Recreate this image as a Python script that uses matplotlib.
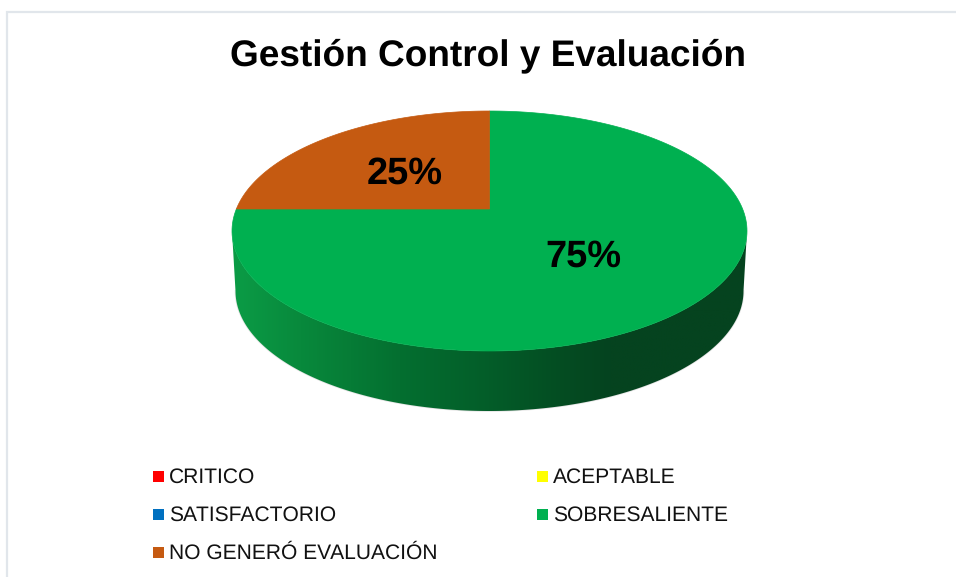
import numpy as np
import matplotlib
matplotlib.use("Agg")
import matplotlib.pyplot as plt
from matplotlib.colors import LinearSegmentedColormap
from matplotlib.patches import Polygon, Rectangle

plt.rcParams["font.family"] = ["Liberation Sans", "DejaVu Sans"]
plt.rcParams["text.hinting"] = "none"
plt.rcParams["text.hinting_factor"] = 1

# datos
categorias = ["CRITICO", "ACEPTABLE", "SATISFACTORIO", "SOBRESALIENTE", "NO GENERÓ EVALUACIÓN"]
valores = [0, 0, 0, 75, 25]
colores = ["#ff0000", "#ffff00", "#0070c0", "#00b050", "#c55a11"]
titulo = "Gestión Control y Evaluación"

# geometria en pixeles
cx, cy = 489.5, 231
rx, ry = 257.5, 120
alto = 60
rx_base = 254
centro_y = 209  # el vertice de las porciones no cae en el centro de la elipse

etiquetas_pos = {3: (583, 257), 4: (405, 174)}
leyenda_pos = [(153, 476.5), (537, 476.5), (153, 514.5), (537, 514.5), (153, 552.5)]

# degradado de la pared lateral
pared_x = [232, 300, 400, 489, 560, 610, 750]
pared_c = ["#0b9c46", "#08893c", "#046f30", "#035d29", "#044d22", "#05431f", "#05431f"]


def borde(theta):
    # interseccion del rayo desde el vertice con la elipse
    c = (cy - centro_y) / ry
    dx, dy = np.cos(theta), np.sin(theta)
    b = c * dy
    s = -b + np.sqrt(b**2 - (c**2 - 1))
    return cx + rx * s * dx, cy - ry * (c + s * dy)


def porcion(inicio, fin):
    ts = np.radians(np.linspace(inicio, fin, 200))
    xs, ys = borde(ts)
    return np.column_stack([np.r_[cx, xs], np.r_[centro_y, ys]])


fig = plt.figure(figsize=(9.56, 5.77), dpi=100)
ax = fig.add_axes([0, 0, 1, 1])
ax.set_axis_off()

# marco
ax.plot([956, 7.5, 7.5], [11.5, 11.5, 577], color="#e1e6eb", lw=1.6, solid_joinstyle="miter")

# pared lateral
t = np.radians(np.linspace(180, 360, 300))
arriba = np.column_stack([cx + rx * np.cos(t), cy - ry * np.sin(t)])
abajo = np.column_stack([cx + rx_base * np.cos(t), cy + alto - ry * np.sin(t)])[::-1]
# sombra suave
ax.plot(abajo[:, 0], abajo[:, 1], color="#808080", lw=1.2, alpha=0.2)
forma = Polygon(np.vstack([arriba, abajo]), closed=True, fc="none", ec="none", transform=ax.transData)
ax.add_patch(forma)
pos = (np.array(pared_x) - pared_x[0]) / (pared_x[-1] - pared_x[0])
cmap = LinearSegmentedColormap.from_list("pared", list(zip(pos, pared_c)))
img = ax.imshow(np.linspace(0, 1, 512)[None, :], cmap=cmap, aspect="auto",
                extent=(pared_x[0], pared_x[-1], 420, 200), zorder=2)
img.set_clip_path(forma)

# cara superior
angulo = 90
for i, v in enumerate(valores):
    if v == 0:
        continue
    fin = angulo - v * 3.6
    ax.add_patch(Polygon(porcion(angulo, fin), closed=True, fc=colores[i], ec=colores[i], lw=0.5, zorder=3))
    ax.text(*etiquetas_pos[i], f"{v}%", ha="center", va="center", fontsize=27, fontweight="bold",
            color="black", zorder=4)
    angulo = fin

# titulo
ax.text(488, 56, titulo, ha="center", va="center", fontsize=26.7, fontweight="bold", color="black")

# leyenda
for nombre, color, (x, y) in zip(categorias, colores, leyenda_pos):
    ax.add_patch(Rectangle((x, y - 5.5), 11, 11, fc=color, ec="none"))
    ax.text(x + 16, y + 0.5, nombre, ha="left", va="center", fontsize=15.45, color="#111111")

ax.set_xlim(0, 956)
ax.set_ylim(577, 0)

fig.savefig("out.png", dpi=100)
